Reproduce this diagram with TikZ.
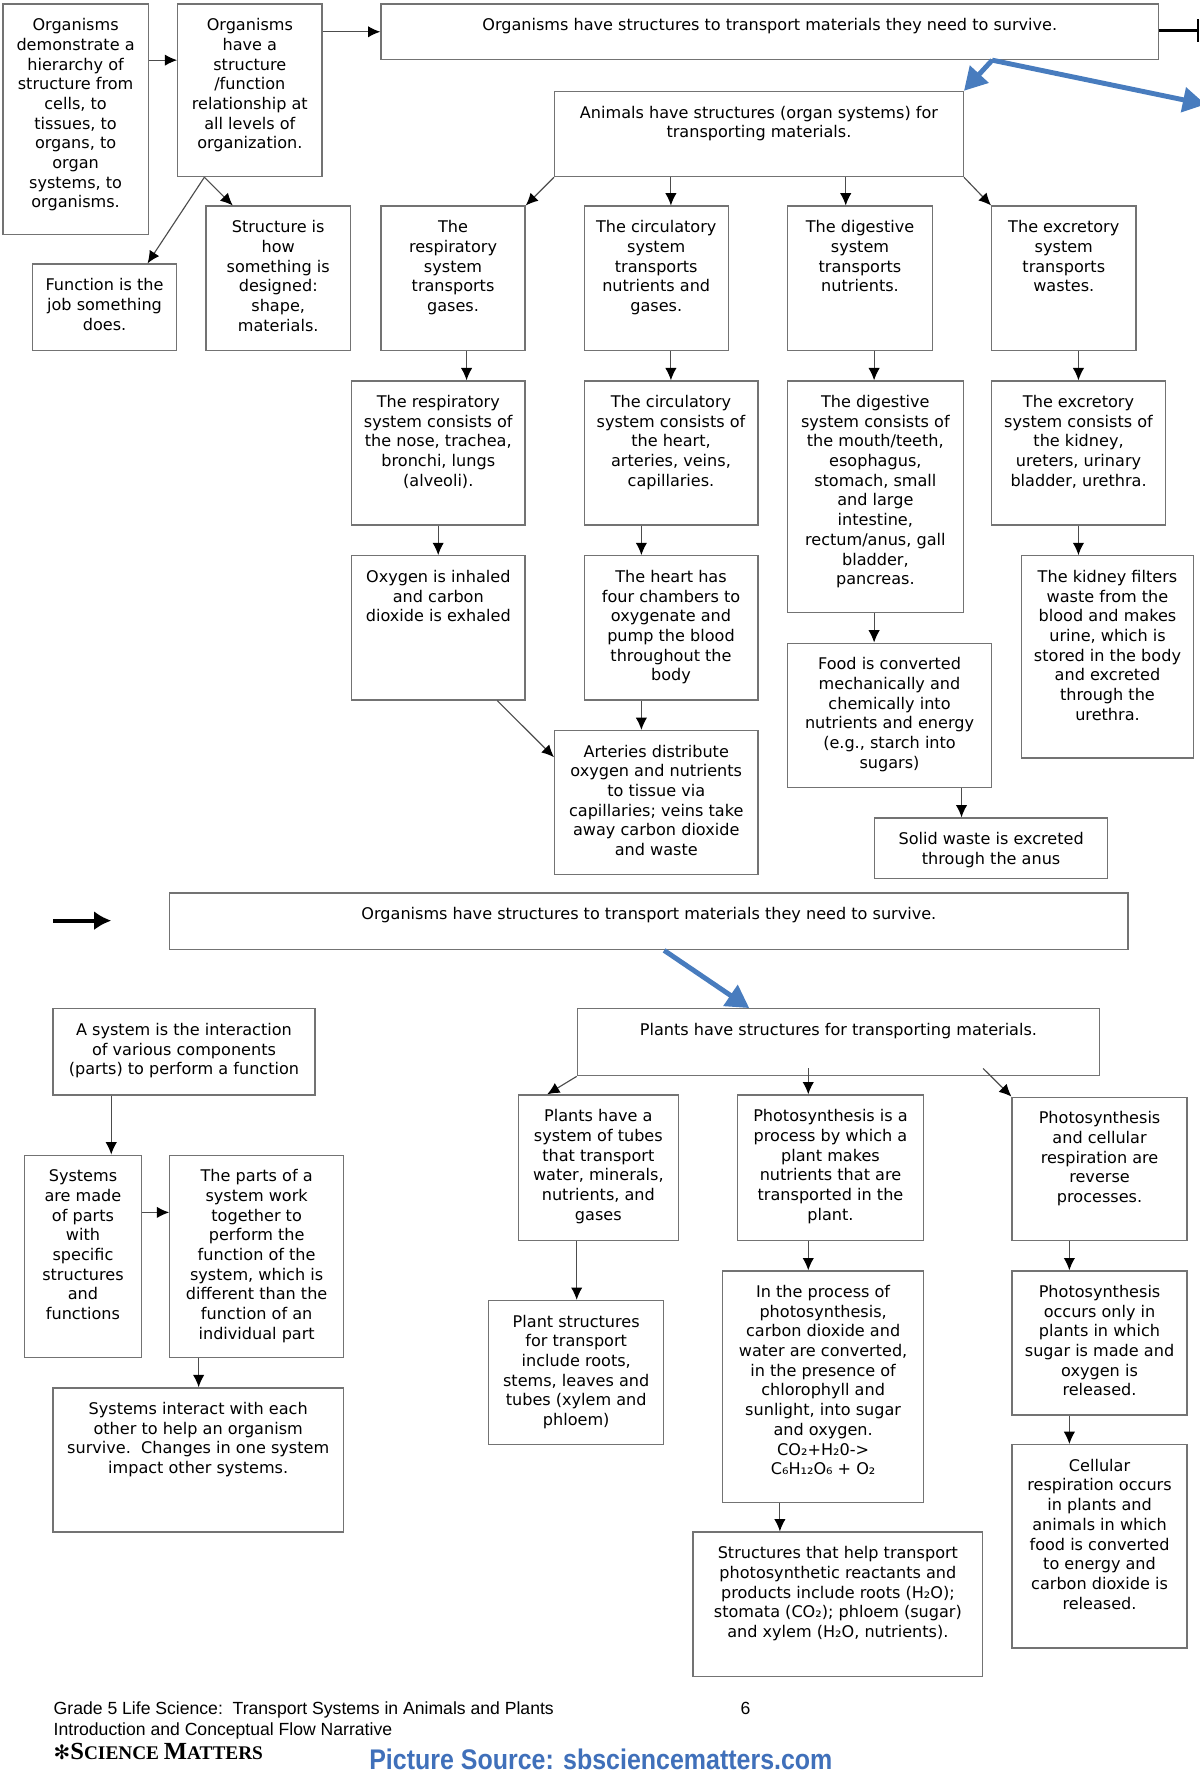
\documentclass[tikz,border=0pt]{standalone}
\usepackage{fontspec}
\usepackage{graphicx}
\setmainfont{DejaVu Sans}
\newfontfamily\footfont{Liberation Sans}
\newfontfamily\scfont{Liberation Serif}
\newfontfamily\symfont{DejaVu Sans}
\usetikzlibrary{arrows.meta,calc}
\definecolor{bluearr}{RGB}{72,124,190}
\definecolor{srcblue}{RGB}{64,112,186}
\newdimen\U \U=0.6pt
\newcommand\bx[6]{\node[box,anchor=north west] (#1) at (#2,#3) {\parbox[c][#5\U][t]{#4\U}{\centering\vspace*{6.8pt}\strut #6\par}};}
\begin{document}
\begin{tikzpicture}[x=0.6pt,y=-0.6pt,
  box/.style={draw=black!55,line width=0.7pt,inner sep=0pt,font=\fontsize{8.5}{10.4}\selectfont},
  arr/.style={draw=black!70,line width=0.6pt,-{Latex[length=6.5pt,width=6pt,color=black]}},
  bigarr/.style={draw=black,line width=2pt,-{Latex[length=9pt,width=10pt]}},
  bluea/.style={draw=bluearr,line width=2.6pt,-{Triangle[length=12pt,width=13pt]}},
  foot/.style={inner sep=0pt,anchor=base west,font=\footfont\fontsize{9.3}{11}\selectfont}]
\useasboundingbox (0,0) rectangle (1057,1568);
% ---------- top section ----------
\bx{b1}{2}{3}{128}{203}{Organisms\\demonstrate a\\hierarchy of\\structure from\\cells, to\\tissues, to\\organs, to\\organ\\systems, to\\organisms.}
\bx{b2}{156}{3}{127}{152}{Organisms\\have a\\structure\\/function\\relationship at\\all levels of\\organization.}
\bx{top}{335}{3}{685}{49}{Organisms have structures to transport materials they need to survive.}
\bx{animals}{488}{80}{360}{75}{Animals have structures (organ systems) for\\transporting materials.}
\bx{func}{28}{232}{127}{76}{Function is the\\job something\\does.}
\bx{struct}{181}{181}{127}{127}{Structure is\\how\\something is\\designed:\\shape,\\materials.}
\bx{resp}{335}{181}{127}{127}{The\\respiratory\\system\\transports\\gases.}
\bx{circ}{514}{181}{127}{127}{The circulatory\\system\\transports\\nutrients and\\gases.}
\bx{dig}{693}{181}{128}{127}{The digestive\\system\\transports\\nutrients.}
\bx{excr}{873}{181}{127}{127}{The excretory\\system\\transports\\wastes.}
\bx{resp2}{309}{335}{153}{127}{The respiratory\\system consists of\\the nose, trachea,\\bronchi, lungs\\(alveoli).}
\bx{circ2}{514}{335}{153}{127}{The circulatory\\system consists of\\the heart,\\arteries, veins,\\capillaries.}
\bx{dig2}{693}{335}{155}{204}{The digestive\\system consists of\\the mouth/teeth,\\esophagus,\\stomach, small\\and large\\intestine,\\rectum/anus, gall\\bladder,\\pancreas.}
\bx{excr2}{873}{335}{153}{127}{The excretory\\system consists of\\the kidney,\\ureters, urinary\\bladder, urethra.}
\bx{oxy}{309}{489}{153}{127}{Oxygen is inhaled\\and carbon\\dioxide is exhaled}
\bx{heart}{514}{489}{153}{127}{The heart has\\four chambers to\\oxygenate and\\pump the blood\\throughout the\\body}
\bx{kidney}{899}{489}{152}{178}{The kidney filters\\waste from the\\blood and makes\\urine, which is\\stored in the body\\and excreted\\through the\\urethra.}
\bx{arteries}{488}{643}{179}{127}{Arteries distribute\\oxygen and nutrients\\to tissue via\\capillaries; veins take\\away carbon dioxide\\and waste}
\bx{food}{693}{566}{180}{127}{Food is converted\\mechanically and\\chemically into\\nutrients and energy\\(e.g., starch into\\sugars)}
\bx{solid}{770}{720}{205}{53}{Solid waste is excreted\\through the anus}
% ---------- bottom section ----------
\bx{wide2}{149}{786}{844}{50}{Organisms have structures to transport materials they need to survive.}
\bx{plants}{508}{888}{460}{59}{Plants have structures for transporting materials.}
\bx{sys}{46}{888}{231}{76}{A system is the interaction\\of various components\\(parts) to perform a function}
\bx{systems}{21}{1017}{103}{178}{Systems\\are made\\of parts\\with\\specific\\structures\\and\\functions}
\bx{parts}{149}{1017}{153}{178}{The parts of a\\system work\\together to\\perform the\\function of the\\system, which is\\different than the\\function of an\\individual part}
\bx{interact}{46}{1222}{256}{127}{Systems interact with each\\other to help an organism\\survive.\ \ Changes in one system\\impact other systems.}
\bx{tubes}{456}{964}{141}{128}{Plants have a\\system of tubes\\that transport\\water, minerals,\\nutrients, and\\gases}
\bx{photoproc}{649}{964}{164}{128}{Photosynthesis is a\\process by which a\\plant makes\\nutrients that are\\transported in the\\plant.}
\bx{reverse}{891}{966}{154}{126}{Photosynthesis\\and cellular\\respiration are\\reverse\\processes.}
\bx{pstruct}{430}{1145}{154}{127}{Plant structures\\for transport\\include roots,\\stems, leaves and\\tubes (xylem and\\phloem)}
\bx{inproc}{636}{1119}{177}{204}{In the process of\\photosynthesis,\\carbon dioxide and\\water are converted,\\in the presence of\\chlorophyll and\\sunlight, into sugar\\and oxygen.\\CO₂+H₂0->\\C₆H₁₂O₆ + O₂}
\bx{only}{891}{1119}{154}{127}{Photosynthesis\\occurs only in\\plants in which\\sugar is made and\\oxygen is\\released.}
\bx{cellular}{891}{1272}{154}{179}{Cellular\\respiration occurs\\in plants and\\animals in which\\food is converted\\to energy and\\carbon dioxide is\\released.}
\bx{help}{610}{1349}{255}{127}{Structures that help transport\\photosynthetic reactants and\\products include roots (H₂O);\\stomata (CO₂); phloem (sugar)\\and xylem (H₂O, nutrients).}
% ---------- connectors ----------
\draw[arr] (b1.east |- 0,53) -- (b2.west |- 0,53);
\draw[arr] (b2.east |- 0,28) -- (top.west |- 0,28);
\draw[arr] (b2.south -| 180,0) -- (func.north -| 130,0);
\draw[arr] (b2.south -| 180,0) -- (struct.north -| 205,0);
\draw[arr] (animals.south west) -- (resp.north east);
\draw[arr] (animals.south -| 591,0) -- (circ.north -| 591,0);
\draw[arr] (animals.south -| 745,0) -- (dig.north -| 745,0);
\draw[arr] (animals.south east) -- (excr.north west);
\draw[arr] (resp.south -| 411,0) -- (resp2.north -| 411,0);
\draw[arr] (circ.south -| 591,0) -- (circ2.north -| 591,0);
\draw[arr] (dig.south -| 770,0) -- (dig2.north -| 770,0);
\draw[arr] (excr.south -| 950,0) -- (excr2.north -| 950,0);
\draw[arr] (resp2.south -| 386,0) -- (oxy.north -| 386,0);
\draw[arr] (circ2.south -| 565,0) -- (heart.north -| 565,0);
\draw[arr] (excr2.south -| 950,0) -- (kidney.north -| 950,0);
\draw[arr] (heart.south -| 565,0) -- (arteries.north -| 565,0);
\draw[arr] (oxy.south -| 438,0) -- (arteries.west |- 0,667);
\draw[arr] (dig2.south -| 770,0) -- (food.north -| 770,0);
\draw[arr] (food.south -| 847,0) -- (solid.north -| 847,0);
\draw[arr] (sys.south -| 98,0) -- (systems.north -| 98,0);
\draw[arr] (systems.east |- 0,1068) -- (parts.west |- 0,1068);
\draw[arr] (parts.south -| 175,0) -- (interact.north -| 175,0);
\draw[arr] (plants.south west) -- (tubes.north -| 482,0);
\draw[arr] ($(plants.south -| 712,0)+(0,-7)$) -- (photoproc.north -| 712,0);
\draw[arr] ($(plants.south -| 866,0)+(0,-7)$) -- (reverse.north west);
\draw[arr] (tubes.south -| 508,0) -- (pstruct.north -| 508,0);
\draw[arr] (photoproc.south -| 712,0) -- (inproc.north -| 712,0);
\draw[arr] (reverse.south -| 942,0) -- (only.north -| 942,0);
\draw[arr] (only.south -| 942,0) -- (cellular.north -| 942,0);
\draw[arr] (inproc.south -| 687,0) -- (help.north -| 687,0);
% top-right continuation line
\coordinate (topR) at (1056,27);
\draw[draw=black,line width=1.5pt,-{Bar[width=12pt,line width=1pt]}] (top.east |- 0,27) -- (topR);
% left big arrow
\coordinate (la) at (47,811);
\coordinate (lb) at (98,811);
\draw[bigarr] (la) -- (lb);
% blue arrows
\coordinate (bsplit) at (874,53);
\coordinate (boff) at (1062,92);
\draw[bluea] (bsplit) -- (animals.north east);
\draw[bluea] (bsplit) -- (boff);
\draw[bluea] (wide2.south -| 585,0) -- (plants.north -| 660,0);
% ---------- footer ----------
\node[foot] (f1) at (47,1510) {Grade 5 Life Science:\ \ Transport Systems in Animals and Plants};
\node[foot] (f6) at (652,1510) {6};
\node[foot] (f2) at (47,1529) {Introduction and Conceptual Flow Narrative};
\node[inner sep=0pt,anchor=base west] (f3) at (47,1550) {{\symfont\bfseries\fontsize{10.5}{10}\selectfont ✻}{\scfont\bfseries\fontsize{13}{12}\selectfont S\fontsize{10.2}{12}\selectfont CIENCE \fontsize{13}{12}\selectfont M\fontsize{10.2}{12}\selectfont ATTERS}};
\node[inner sep=0pt,anchor=base west,text=srcblue] (src) at (325,1559) {\scalebox{0.88}[1]{\footfont\bfseries\fontsize{15}{15}\selectfont Picture Source: sbsciencematters.com}};
\end{tikzpicture}
\end{document}
